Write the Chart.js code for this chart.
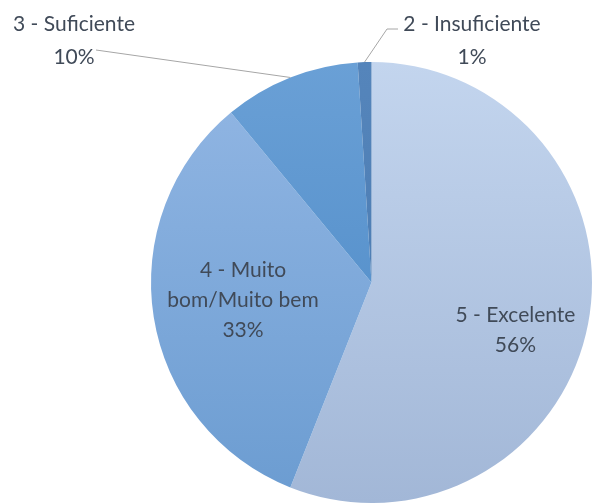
<!DOCTYPE html>
<html>
<head>
<meta charset="utf-8">
<script src="https://cdn.jsdelivr.net/npm/chart.js@4/dist/chart.umd.min.js"></script>
<style>
  html, body { margin: 0; padding: 0; background: #ffffff; }
  #wrap { width: 592px; height: 503px; position: relative; }
</style>
</head>
<body>
<div id="wrap"><canvas id="c" width="592" height="503"></canvas></div>
<script>
// ---- data ----
const categories = ['5 - Excelente', '4 - Muito bom/Muito bem', '3 - Suficiente', '2 - Insuficiente'];
const labelLines = [['5 - Excelente'], ['4 - Muito', 'bom/Muito bem'], ['3 - Suficiente'], ['2 - Insuficiente']];
const values = [56, 33, 10, 1];
const percentLabels = ['56%', '33%', '10%', '1%'];

// ---- styles ----
const topColors = ['#c3d5ee', '#93b7e4', '#6aa0d6', '#5585bb'];
const bottomColors = ['#a2b7d7', '#6b9cd1', '#4886c4', '#4677ad'];
const textColor = '#404a58';
const fontFamily = 'Lato, "Liberation Sans", sans-serif';

// label placement: inside labels use radius fraction + offset; outside labels use anchor point & leader
const labelPlacement = [
  { inside: true, frac: 0.66, dx: 1, dy: 20 },
  { inside: true, frac: 0.59, dx: 0, dy: -3 },
  { inside: false, textX: 74, textY: 24, lineTo: [96, 50], elbow: null },
  { inside: false, textX: 472, textY: 24, lineTo: [398, 29], elbow: [387, 29] }
];

function grad(ctx, i) {
  const chart = ctx.chart;
  const a = chart.chartArea;
  if (!a) return topColors[i];
  const g = chart.ctx.createLinearGradient(0, a.top, 0, a.bottom);
  g.addColorStop(0, topColors[i]);
  g.addColorStop(1, bottomColors[i]);
  return g;
}

const labelPlugin = {
  id: 'pieLabels',
  afterDatasetsDraw(chart) {
    const ctx = chart.ctx;
    const meta = chart.getDatasetMeta(0);
    const lineH = 30;
    ctx.save();
    ctx.font = '21px ' + fontFamily;
    ctx.fillStyle = textColor;
    ctx.textAlign = 'center';
    ctx.textBaseline = 'middle';
    meta.data.forEach((arc, i) => {
      const p = arc.getProps(['x', 'y', 'startAngle', 'endAngle', 'outerRadius'], true);
      const mid = (p.startAngle + p.endAngle) / 2;
      const lines = labelLines[i].concat([percentLabels[i]]);
      const pl = labelPlacement[i];
      if (pl.inside) {
        const cx = p.x + Math.cos(mid) * p.outerRadius * pl.frac + pl.dx;
        const cy = p.y + Math.sin(mid) * p.outerRadius * pl.frac + pl.dy;
        const y0 = cy - (lines.length - 1) * lineH / 2;
        lines.forEach((t, k) => ctx.fillText(t, cx, y0 + k * lineH));
      } else {
        const ex = p.x + Math.cos(mid) * p.outerRadius;
        const ey = p.y + Math.sin(mid) * p.outerRadius;
        ctx.save();
        ctx.strokeStyle = '#a6a6a6';
        ctx.lineWidth = 1;
        ctx.beginPath();
        ctx.moveTo(ex, ey);
        if (pl.elbow) ctx.lineTo(pl.elbow[0], pl.elbow[1]);
        ctx.lineTo(pl.lineTo[0], pl.lineTo[1]);
        ctx.stroke();
        ctx.restore();
        lines.forEach((t, k) => ctx.fillText(t, pl.textX, pl.textY + k * 33));
      }
    });
    ctx.restore();
  }
};

new Chart(document.getElementById('c'), {
  type: 'pie',
  data: {
    labels: categories,
    datasets: [{
      data: values,
      backgroundColor: (ctx) => grad(ctx, ctx.dataIndex),
      borderWidth: 0
    }]
  },
  options: {
    responsive: false,
    animation: false,
    rotation: 0,
    layout: { padding: { top: 62, bottom: 0, left: 151, right: 0 } },
    plugins: {
      legend: { display: false },
      tooltip: { enabled: false },
      title: { display: false }
    }
  },
  plugins: [labelPlugin]
});
</script>
</body>
</html>
